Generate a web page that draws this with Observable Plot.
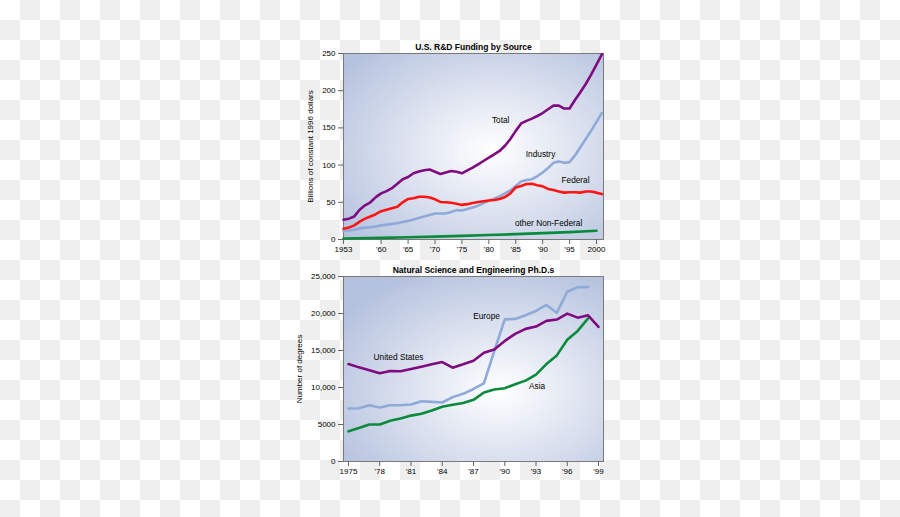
<!DOCTYPE html>
<html>
<head>
<meta charset="utf-8">
<script src="https://cdn.jsdelivr.net/npm/d3@7"></script>
<script src="https://cdn.jsdelivr.net/npm/@observablehq/plot@0.6"></script>
<style>
  html, body { margin: 0; padding: 0; }
  body {
    width: 900px; height: 517px; overflow: hidden;
    background: repeating-conic-gradient(#efefef 0 25%, #ffffff 0 50%) 0 0 / 40px 40px;
    font-family: "Liberation Sans", Arial, sans-serif;
  }
  #topPanel, #bottomPanel { position: absolute; left: 0; }
  #topPanel { top: 0; }
  #bottomPanel { top: 258px; }
  svg { background: transparent !important; }
</style>
</head>
<body>
<div id="topPanel"></div>
<div id="bottomPanel"></div>
<script>
// ---------- Top panel: U.S. R&D Funding by Source (billions of constant 1996 dollars)
const rdYears = [1953,1954,1955,1956,1957,1958,1959,1960,1961,1962,1963,1964,1965,1966,1967,1968,1969,1970,1971,1972,1973,1974,1975,1976,1977,1978,1979,1980,1981,1982,1983,1984,1985,1986,1987,1988,1989,1990,1991,1992,1993,1994,1995,1996,1997,1998,1999,2000,2001];
const rdTotal = [26.5,28,31,40,46,50,57,62,65,69,75,81,84,89,91.5,93,94,91,88,90,92,91,89,93,96.5,101,105.5,110,114.5,119,126,135,146,156,159.5,162.5,166,170,175,180,180,176,176,187.5,198,209,221.5,235,249];
const rdIndustry = [12,12,13,15,16,16.5,17.5,19,20,21,22,23.5,25,27,29,31,33,35,35,35,37,39.5,39,41,43,45.5,49,52,55,58,62,66,72,78,80,81,85,90,96,103,105,103,104,113,124,135,146,158,170];
const rdFederal = [14.5,16,19,24,28,31,34,38,40,42,44,50,54.5,55.5,57.5,57.5,56.5,54,50.5,50,49.5,48,46.5,47.5,49,50.5,51.5,52.5,53,54.5,57,62,70,72,74.5,75,73,71.5,68,66.5,64.5,63,63.5,63.5,63,64.5,64.5,63,61];
const nonFedYears = [1953,1960,1965,1970,1975,1980,1985,1990,1995,2000];
const nonFedValues = [1.4,2.2,3,3.9,4.9,6,7.2,8.6,9.9,11.8];
const rdTickYears = [1953,1960,1965,1970,1975,1980,1985,1990,1995,2000];
const rdTickLabels = ["1953","'60","'65","'70","'75","'80","'85","'90","'95","2000"];
const rdYTicks = [0,50,100,150,200,250];

// ---------- Bottom panel: Natural Science and Engineering Ph.D.s
const phdYears = [1975,1976,1977,1978,1979,1980,1981,1982,1983,1984,1985,1986,1987,1988,1989,1990,1991,1992,1993,1994,1995,1996,1997,1998,1999];
const phdUS = [13170,12720,12320,11920,12230,12190,12500,12810,13130,13440,12680,13130,13620,14700,15140,16300,17250,17920,18230,19000,19180,19980,19440,19760,18190];
const phdEurope = [7170,7200,7600,7300,7600,7600,7700,8150,8060,7970,8700,9140,9800,10570,14950,19200,19270,19760,20340,21150,20100,22940,23570,23570,null];
const phdAsia = [4080,4520,5000,5000,5500,5800,6200,6450,6900,7400,7660,7900,8330,9320,9720,9900,10440,10930,11740,13170,14340,16440,17650,19350,null];
const phdTickYears = [1975,1978,1981,1984,1987,1990,1993,1996,1999];
const phdTickLabels = ["1975","'78","'81","'84","'87","'90","'93","'96","'99"];
const phdYTicks = [0,5000,10000,15000,20000,25000];
const phdYTickLabels = ["0","5000","10,000","15,000","20,000","25,000"];

const colors = {purple: "#800a80", blue: "#8fa9d8", red: "#ff1414", green: "#0a8b3c"};

const rows = (xs, ys, series) => xs.map((x, i) => ({x, y: ys[i], series})).filter(d => d.y != null);

const rdData = [
  ...rows(rdYears, rdIndustry, "Industry"),
  ...rows(rdYears, rdFederal, "Federal"),
  ...rows(nonFedYears, nonFedValues, "other Non-Federal"),
  ...rows(rdYears, rdTotal, "Total")
];
const phdData = [
  ...rows(phdYears, phdEurope, "Europe"),
  ...rows(phdYears, phdAsia, "Asia"),
  ...rows(phdYears, phdUS, "United States")
];

const rdLabels = [
  {x: 1982.2, y: 160, text: "Total"},
  {x: 1989.6, y: 114, text: "Industry"},
  {x: 1996.1, y: 79, text: "Federal"},
  {x: 1991.1, y: 21.5, text: "other Non-Federal"}
];
const phdLabels = [
  {x: 1988.25, y: 19600, text: "Europe"},
  {x: 1979.8, y: 14050, text: "United States"},
  {x: 1993.1, y: 10130, text: "Asia"}
];

function addGradient(svg, id, cx, cy) {
  const s = d3.select(svg);
  const defs = s.insert("defs", ":first-child");
  const g = defs.append("radialGradient").attr("id", id)
    .attr("cx", cx).attr("cy", cy).attr("r", 0.72).attr("fx", cx).attr("fy", cy);
  g.append("stop").attr("offset", "0%").attr("stop-color", "#ffffff");
  g.append("stop").attr("offset", "100%").attr("stop-color", "#b5c2de");
  s.selectAll("[aria-label=frame]").each(function() {
    const el = d3.select(this);
    if (this.tagName.toLowerCase() === "rect") el.attr("fill", `url(#${id})`);
    el.selectAll("rect").attr("fill", `url(#${id})`);
  });
}

const common = {
  width: 900,
  marginLeft: 343,
  marginRight: 297,
  style: {fontFamily: "'Liberation Sans', Arial, sans-serif", fontSize: "8px", color: "#000", background: "transparent", overflow: "visible"}
};

const topChart = Plot.plot({
  ...common,
  height: 258,
  marginTop: 53,
  marginBottom: 19,
  x: {domain: [1953, 2001.3]},
  y: {domain: [0, 250]},
  color: {domain: ["Total","Industry","Federal","other Non-Federal"], range: [colors.purple, colors.blue, colors.red, colors.green]},
  marks: [
    Plot.frame({fill: "#dde3f0", stroke: "#7a7a7a", strokeWidth: 1}),
    Plot.axisY({ticks: rdYTicks, tickSize: 5, tickPadding: 3, stroke: "#666", fill: "#000", label: "Billions of constant 1996 dollars", labelArrow: "none", labelAnchor: "center", labelOffset: 36}),
    Plot.axisX({ticks: rdTickYears, tickFormat: (d, i) => rdTickLabels[i], tickSize: 5, tickPadding: 2, stroke: "#666", fill: "#000", label: null}),
    Plot.lineY(rdData, {x: "x", y: "y", z: "series", stroke: "series", strokeWidth: 2.6, curve: "linear"}),
    Plot.text(rdLabels, {x: "x", y: "y", text: "text", fill: "#000", fontSize: 8.3}),
    Plot.text(["U.S. R&D Funding by Source"], {frameAnchor: "top", dy: -10, text: d => d, fontWeight: "bold", fontSize: 8.5, fill: "#000"})
  ]
});
document.getElementById("topPanel").appendChild(topChart);
addGradient(topChart, "gradTop", 0.57, 0.52);

const bottomChart = Plot.plot({
  ...common,
  height: 259,
  marginTop: 18,
  marginBottom: 56,
  x: {domain: [1974.52, 1999.48]},
  y: {domain: [0, 25000]},
  color: {domain: ["United States","Europe","Asia"], range: [colors.purple, colors.blue, colors.green]},
  marks: [
    Plot.frame({fill: "#dde3f0", stroke: "#7a7a7a", strokeWidth: 1}),
    Plot.axisY({ticks: phdYTicks, tickFormat: (d, i) => phdYTickLabels[i], tickSize: 5, tickPadding: 3, stroke: "#666", fill: "#000", label: "Number of degrees", labelArrow: "none", labelAnchor: "center", labelOffset: 47}),
    Plot.axisX({ticks: phdTickYears, tickFormat: (d, i) => phdTickLabels[i], tickSize: 5, tickPadding: 2, stroke: "#666", fill: "#000", label: null}),
    Plot.lineY(phdData, {x: "x", y: "y", z: "series", stroke: "series", strokeWidth: 2.6, curve: "linear"}),
    Plot.text(phdLabels, {x: "x", y: "y", text: "text", fill: "#000", fontSize: 8.3}),
    Plot.text(["Natural Science and Engineering Ph.D.s"], {frameAnchor: "top", dy: -10, text: d => d, fontWeight: "bold", fontSize: 8.5, fill: "#000"})
  ]
});
document.getElementById("bottomPanel").appendChild(bottomChart);
addGradient(bottomChart, "gradBottom", 0.6, 0.62);
</script>
</body>
</html>
